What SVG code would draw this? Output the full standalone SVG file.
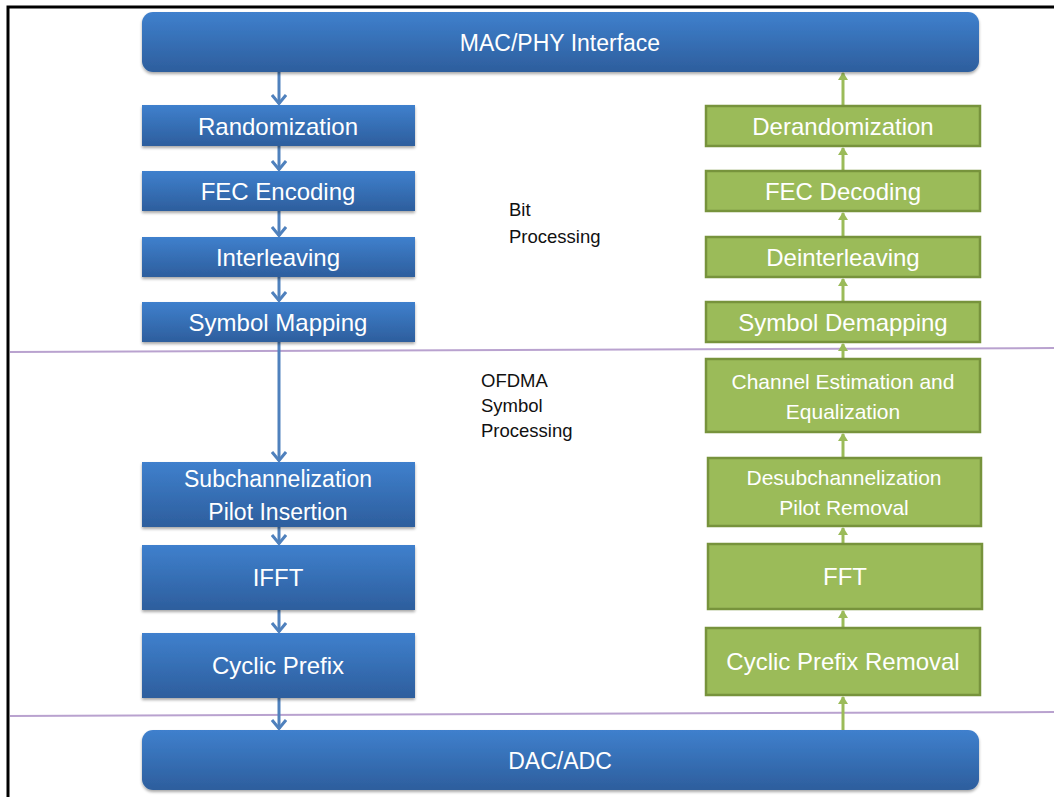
<svg xmlns="http://www.w3.org/2000/svg" width="1054" height="797" viewBox="0 0 1054 797">
<defs>
<linearGradient id="blueGrad" x1="0" y1="0" x2="0" y2="1">
<stop offset="0" stop-color="#3f80cd"/>
<stop offset="1" stop-color="#2d5e9d"/>
</linearGradient>
<filter id="shadow" x="-5%" y="-20%" width="110%" height="150%">
<feGaussianBlur in="SourceAlpha" stdDeviation="1.5"/>
<feOffset dx="0" dy="2" result="b"/>
<feComponentTransfer><feFuncA type="linear" slope="0.35"/></feComponentTransfer>
<feMerge><feMergeNode/><feMergeNode in="SourceGraphic"/></feMerge>
</filter>
<marker id="blueHead" viewBox="0 0 12 16" refX="11" refY="8" markerWidth="12" markerHeight="16" markerUnits="userSpaceOnUse" orient="auto">
<path d="M2,1 L10.5,8 L2,15" fill="none" stroke="#4f81bd" stroke-width="3"/>
</marker>
<marker id="greenHead" viewBox="0 0 8 10" refX="7" refY="5" markerWidth="8" markerHeight="10" markerUnits="userSpaceOnUse" orient="auto">
<path d="M0,0 L8,5 L0,10 Z" fill="#9bbb59"/>
</marker>
</defs>
<style>
.blue{fill:url(#blueGrad);filter:url(#shadow);}
.green{fill:#9bbb59;stroke:#77933c;stroke-width:2.5;}
.lbl{font-family:"Liberation Sans",Arial,sans-serif;fill:#ffffff;text-anchor:middle;}
.side{font-family:"Liberation Sans",Arial,sans-serif;fill:#111111;font-size:18.5px;}
.bc{stroke:#4f81bd;stroke-width:3;fill:none;marker-end:url(#blueHead);}
.gc{stroke:#9bbb59;stroke-width:3;fill:none;marker-end:url(#greenHead);}
.sep{stroke:#b9a2cf;stroke-width:2;fill:none;}
</style>
<rect x="0" y="0" width="1054" height="797" fill="#ffffff"/>
<path d="M8,797 L8,7 L1054,7" fill="none" stroke="#000000" stroke-width="3"/>

<g id="separators">
<path class="sep" d="M10,352 L1054,348"/>
<path class="sep" d="M10,716 L1054,712"/>
</g>

<g id="connectors">
<line class="bc" x1="279" y1="72" x2="279" y2="104"/>
<line class="bc" x1="279" y1="146" x2="279" y2="170"/>
<line class="bc" x1="279" y1="211" x2="279" y2="236"/>
<line class="bc" x1="279" y1="277" x2="279" y2="301"/>
<line class="bc" x1="279" y1="342" x2="279" y2="461"/>
<line class="bc" x1="279" y1="527" x2="279" y2="544"/>
<line class="bc" x1="279" y1="610" x2="279" y2="632"/>
<line class="bc" x1="279" y1="698" x2="279" y2="729"/>
<line class="gc" x1="843" y1="105" x2="843" y2="73"/>
<line class="gc" x1="843" y1="170" x2="843" y2="148"/>
<line class="gc" x1="843" y1="236" x2="843" y2="213"/>
<line class="gc" x1="843" y1="301" x2="843" y2="279"/>
<line class="gc" x1="843" y1="358" x2="843" y2="344"/>
<line class="gc" x1="843" y1="457" x2="843" y2="434"/>
<line class="gc" x1="843" y1="543" x2="843" y2="528"/>
<line class="gc" x1="843" y1="627" x2="843" y2="611"/>
<line class="gc" x1="843" y1="730" x2="843" y2="697"/>
</g>

<g id="mac-phy">
<rect class="blue" x="142" y="12" width="837" height="60" rx="11"/>
<text class="lbl" x="560" y="51" font-size="23">MAC/PHY Interface</text>
</g>
<g id="dac-adc">
<rect class="blue" x="142" y="730" width="837" height="60" rx="11"/>
<text class="lbl" x="560" y="769" font-size="23">DAC/ADC</text>
</g>

<g id="randomization">
<rect class="blue" x="142" y="105" width="273" height="41"/>
<text class="lbl" x="278" y="135" font-size="24">Randomization</text>
</g>
<g id="fec-encoding">
<rect class="blue" x="142" y="171" width="273" height="40"/>
<text class="lbl" x="278" y="200" font-size="24">FEC Encoding</text>
</g>
<g id="interleaving">
<rect class="blue" x="142" y="237" width="273" height="40"/>
<text class="lbl" x="278" y="266" font-size="24">Interleaving</text>
</g>
<g id="symbol-mapping">
<rect class="blue" x="142" y="302" width="273" height="40"/>
<text class="lbl" x="278" y="331" font-size="24">Symbol Mapping</text>
</g>
<g id="subchannelization">
<rect class="blue" x="142" y="462" width="273" height="65"/>
<text class="lbl" x="278" y="487" font-size="23">Subchannelization</text>
<text class="lbl" x="278" y="520" font-size="23">Pilot Insertion</text>
</g>
<g id="ifft">
<rect class="blue" x="142" y="545" width="273" height="65"/>
<text class="lbl" x="278" y="586" font-size="24">IFFT</text>
</g>
<g id="cyclic-prefix">
<rect class="blue" x="142" y="633" width="273" height="65"/>
<text class="lbl" x="278" y="674" font-size="24">Cyclic Prefix</text>
</g>

<g id="derandomization">
<rect class="green" x="706" y="106" width="274" height="40"/>
<text class="lbl" x="843" y="135" font-size="24">Derandomization</text>
</g>
<g id="fec-decoding">
<rect class="green" x="706" y="171" width="274" height="40"/>
<text class="lbl" x="843" y="200" font-size="24">FEC Decoding</text>
</g>
<g id="deinterleaving">
<rect class="green" x="706" y="237" width="274" height="40"/>
<text class="lbl" x="843" y="266" font-size="24">Deinterleaving</text>
</g>
<g id="symbol-demapping">
<rect class="green" x="706" y="302" width="274" height="40"/>
<text class="lbl" x="843" y="331" font-size="24">Symbol Demapping</text>
</g>
<g id="channel-estimation">
<rect class="green" x="706" y="359" width="274" height="73"/>
<text class="lbl" x="843" y="389" font-size="21">Channel Estimation and</text>
<text class="lbl" x="843" y="419" font-size="21">Equalization</text>
</g>
<g id="desubchannelization">
<rect class="green" x="708" y="458" width="273" height="68"/>
<text class="lbl" x="844" y="485" font-size="21">Desubchannelization</text>
<text class="lbl" x="844" y="515" font-size="21">Pilot Removal</text>
</g>
<g id="fft">
<rect class="green" x="708" y="544" width="274" height="65"/>
<text class="lbl" x="845" y="585" font-size="24">FFT</text>
</g>
<g id="cyclic-prefix-removal">
<rect class="green" x="706" y="628" width="274" height="67"/>
<text class="lbl" x="843" y="670" font-size="24">Cyclic Prefix Removal</text>
</g>

<g id="labels">
<text class="side" x="509" y="216">Bit</text>
<text class="side" x="509" y="243">Processing</text>
<text class="side" x="481" y="387">OFDMA</text>
<text class="side" x="481" y="412">Symbol</text>
<text class="side" x="481" y="437">Processing</text>
</g>
</svg>
